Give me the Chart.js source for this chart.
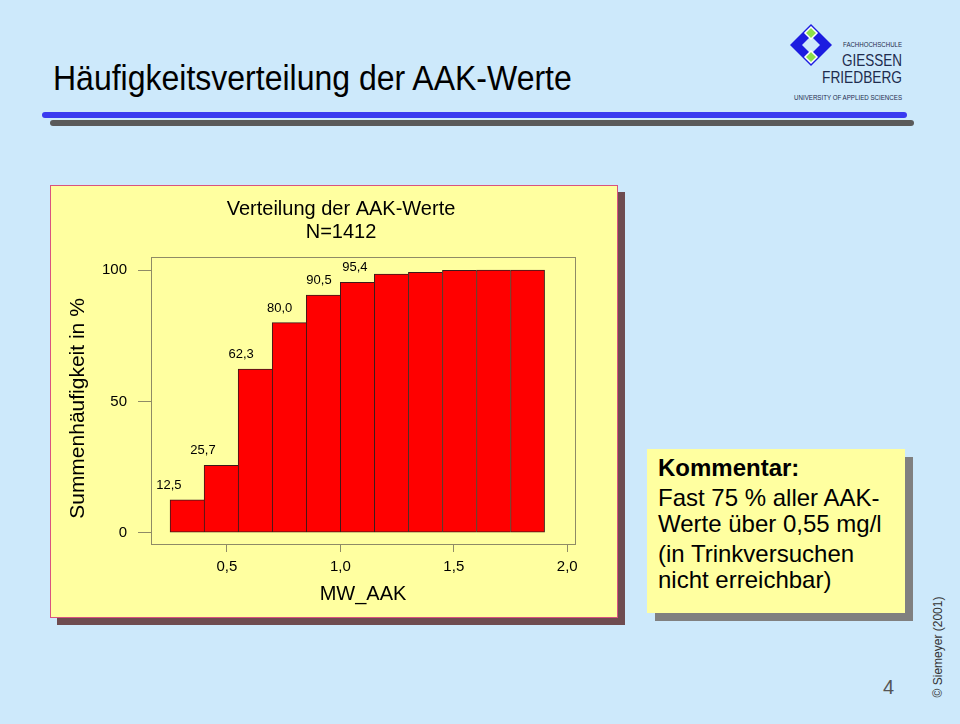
<!DOCTYPE html>
<html>
<head>
<meta charset="utf-8">
<script src="https://cdn.jsdelivr.net/npm/chart.js@4.4.1/dist/chart.umd.min.js"></script>
<style>
  body { margin: 0; background: #cde9fb; font-family: "Liberation Sans", Arial, sans-serif; }
  #slide { position: relative; width: 960px; height: 724px; overflow: hidden; background: #cde9fb; }
  .abs { position: absolute; }
  #heading { left: 53px; top: 58px; font-size: 32px; line-height: 40px; white-space: nowrap;
             transform: scaleY(1.1); transform-origin: left center; color: #000; }
  .rule { position: absolute; height: 6px; border-radius: 3px; }
  #panel { left: 50px; top: 185px; width: 566px; height: 431px; background: #ffffa0;
           border: 1px solid #d9537f; box-shadow: 7px 7px 0 #6e4c50; }
  #chartBox { left: 50px; top: 186px; width: 582px; height: 434px; }
  #comment { left: 647px; top: 449px; width: 258px; height: 164px; background: #ffffa0;
             box-shadow: 8px 8px 0 #808080; padding: 6px 0 0 11px; box-sizing: border-box;
             font-size: 24px; line-height: 26px; color: #000; }
  #comment p { margin: 4px 0 0 0; }
  #comment b { display: block; }
  #page { left: 883px; top: 676px; font-size: 20px; color: #555; }
  #copy { left: 878px; top: 639px; width: 120px; height: 16px; line-height: 16px; text-align: center;
          font-size: 12px; color: #333; transform: rotate(-90deg); white-space: nowrap; }
</style>
</head>
<body>
<div id="slide">
  <div id="heading" class="abs">Häufigkeitsverteilung der AAK-Werte</div>
  <div class="rule" style="left:42px;top:112px;width:865px;background:#3a3af0;"></div>
  <div class="rule" style="left:50px;top:120px;width:864px;background:#5a5a5a;"></div>

  <!-- logo -->
  <svg class="abs" style="left:0;top:0" width="960" height="120">
    <polygon points="790,45 811,24 832,45 811,66" fill="#1c1ce0"/>
    <polygon points="802,45 811,36 820,45 811,54" fill="#cde9fb"/>
    <polygon points="811,27 817,33 811,39 805,33" fill="#8ee04a" stroke="#fff" stroke-width="1.5"/>
    <polygon points="811,51 817,57 811,63 805,57" fill="#8ee04a" stroke="#fff" stroke-width="1.5"/>
    <g fill="#1e2c4e" font-family="'Liberation Sans Narrow','Liberation Sans',Arial" text-anchor="end">
      <text x="902" y="47" font-size="8" textLength="59" lengthAdjust="spacingAndGlyphs">FACHHOCHSCHULE</text>
      <text x="902" y="66" font-size="17" textLength="60" lengthAdjust="spacingAndGlyphs">GIESSEN</text>
      <text x="902" y="83" font-size="17" textLength="80" lengthAdjust="spacingAndGlyphs">FRIEDBERG</text>
      <text x="902" y="100" font-size="7" textLength="108" lengthAdjust="spacingAndGlyphs">UNIVERSITY OF APPLIED SCIENCES</text>
    </g>
  </svg>

  <div id="panel" class="abs"></div>
  <div id="chartBox" class="abs"><canvas id="histChart"></canvas></div>

  <div id="comment" class="abs">
    <b>Kommentar:</b>
    <p>Fast 75 % aller AAK-<br>Werte über 0,55 mg/l</p>
    <p>(in Trinkversuchen<br>nicht erreichbar)</p>
  </div>

  <div id="page" class="abs">4</div>
  <div id="copy" class="abs">© Siemeyer (2001)</div>
</div>

<script>
// Cumulative frequency of AAK values per class (class width 0.15)
const binCenters = [0.325, 0.475, 0.625, 0.775, 0.925, 1.075, 1.225, 1.375, 1.525, 1.675, 1.825];
const cumPercent = [12.5, 25.7, 62.3, 80.0, 90.5, 95.4, 98.5, 99.2, 99.9, 100, 100];

// where the value labels of the first six bars sit (x in MW_AAK units)
const labelX = [0.245, 0.395, 0.563, 0.733, 0.906, 1.064];

const xTicks = [0.5, 1.0, 1.5, 2.0];
const yTicks = [0, 50, 100];

const chartTitle = ["Verteilung der AAK-Werte", "N=1412"];
const yTitle = "Summenhäufigkeit in %";

const FONT = '"Liberation Sans", Arial, sans-serif';
const AXIS_COLOR = "#8f8b66";
Chart.defaults.font.family = FONT;

const comma = (v) => v.toFixed(1).replace(".", ",");

// box around the plot, value labels, chart title and the y axis title
const decorations = {
  id: "decorations",
  afterDraw(chart) {
    const { ctx, chartArea: a, scales } = chart;
    ctx.save();
    ctx.strokeStyle = AXIS_COLOR;
    ctx.lineWidth = 1;
    ctx.strokeRect(Math.round(a.left) + 0.5, Math.round(a.top) + 0.5,
      Math.round(a.right - a.left), Math.round(a.bottom - a.top));

    ctx.fillStyle = "#000";
    ctx.textAlign = "center";
    ctx.textBaseline = "middle";
    ctx.font = "13px " + FONT;
    labelX.forEach((lx, i) => {
      ctx.fillText(comma(cumPercent[i]), scales.x.getPixelForValue(lx),
        scales.y.getPixelForValue(cumPercent[i]) - 14.5);
    });

    // title sits a bit left of the plot centre, as in the original slide
    ctx.font = "20px " + FONT;
    chartTitle.forEach((t, i) => {
      ctx.fillText(t, a.left + 190, a.top - 47.5 + i * 23);
    });

    ctx.font = "21px " + FONT;
    ctx.translate(a.left - 73, (a.top + a.bottom) / 2 + 8);
    ctx.rotate(-Math.PI / 2);
    ctx.fillText(yTitle, 0, 0);
    ctx.restore();
  },
};

new Chart(document.getElementById("histChart"), {
  type: "bar",
  data: {
    datasets: [
      {
        data: binCenters.map((c, i) => ({ x: c, y: cumPercent[i] })),
        backgroundColor: "#ff0000",
        borderColor: "#3a1a1a",
        borderWidth: (c) => ({ top: 1, left: 1, bottom: 1, right: c.dataIndex === binCenters.length - 1 ? 1 : 0 }),
        borderSkipped: false,
        barPercentage: 1,
        categoryPercentage: 1,
      },
    ],
  },
  options: {
    responsive: true,
    maintainAspectRatio: false,
    animation: false,
    layout: { padding: { left: 0, right: 57, top: 71, bottom: 14 } },
    plugins: {
      legend: { display: false },
      tooltip: { enabled: false },
      title: { display: false },
    },
    scales: {
      x: {
        type: "linear",
        min: 0.166,
        max: 2.034,
        offset: false,
        afterBuildTicks: (s) => { s.ticks = xTicks.map((v) => ({ value: v })); },
        grid: { drawOnChartArea: false, tickLength: 8, color: AXIS_COLOR, offset: false },
        border: { display: false },
        ticks: { padding: 6, color: "#000", font: { size: 15 }, maxRotation: 0, autoSkip: false,
                 callback: (v) => comma(v) },
        title: { display: true, text: "MW_AAK", color: "#000", font: { size: 20 }, padding: { top: 0, bottom: 0 } },
      },
      y: {
        min: -4.3,
        max: 105,
        afterBuildTicks: (s) => { s.ticks = yTicks.map((v) => ({ value: v })); },
        afterFit: (s) => { s.width = 101; },
        grid: { drawOnChartArea: false, tickLength: 13, color: AXIS_COLOR },
        border: { display: false },
        ticks: { padding: 11, color: "#000", font: { size: 15 } },
      },
    },
  },
  plugins: [decorations],
});
</script>
</body>
</html>
